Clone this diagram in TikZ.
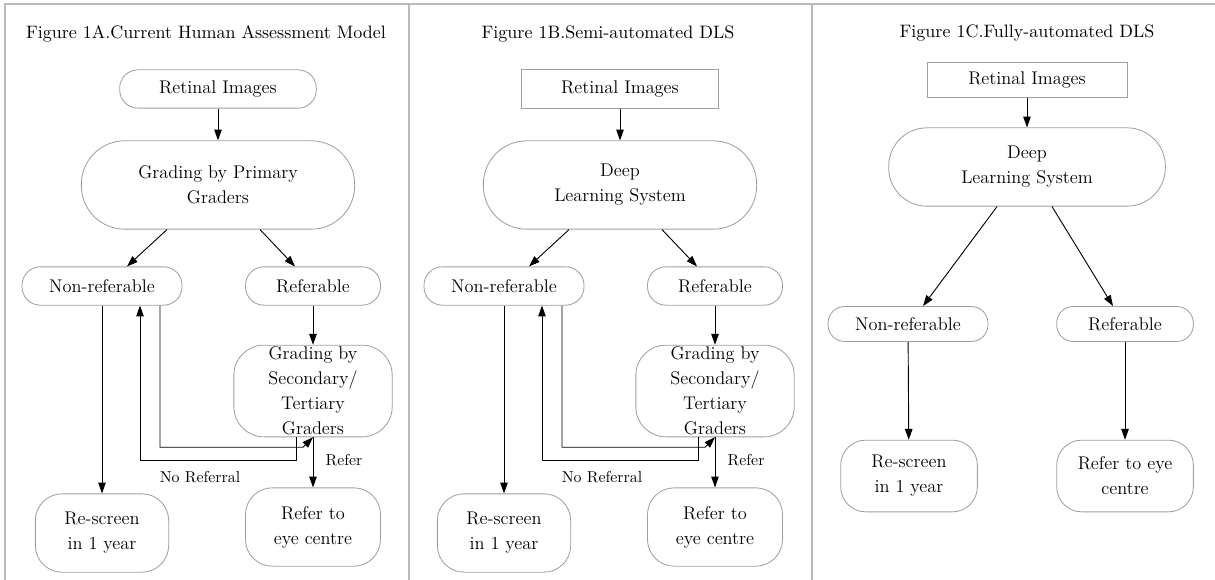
\documentclass[tikz,border=0pt]{standalone}
\usetikzlibrary{arrows.meta,calc}

\tikzset{
  flow/.style={draw=gray!75, line width=.5pt, align=center, inner sep=0pt,
               font=\fontsize{11}{15}\selectfont},
  pill/.style={flow, rounded corners=#1},
  imgpill/.style={flow, rounded corners=11pt},
  imgbox/.style={flow, rounded corners=0pt},
  arr/.style={-{Triangle[length=6.5pt,width=4.5pt]}, line width=.55pt},
  frame/.style={draw=gray!55, line width=1.1pt},
  titletext/.style={font=\fontsize{10.8}{13}\selectfont},
  small/.style={font=\fontsize{9.5}{11}\selectfont}
}

\begin{document}
\begin{tikzpicture}[x=0.6pt,y=-0.6pt]
    \useasboundingbox (0,0) rectangle (1215,580);
    % frame and separators
    \draw[frame] (5,580) -- (5,4) -- (1215,4);
    \draw[frame] (409,4) -- (409,580);
    \draw[frame] (812,4) -- (812,580);

    % Figure 1A and 1B
    \foreach \p/\dx/\shp/\txt/\tit in {a/0/imgpill/{Grading by Primary\\Graders}/{Figure 1A.Current Human Assessment Model},
                                      b/402/imgbox/{Deep\\Learning System}/{Figure 1B.Semi-automated DLS}} {
        \begin{scope}[xshift=\dx*0.6pt, name prefix=\p-]
            \node[titletext] (title) at (206,34) {\tit};
            \node[\shp, minimum width=118pt, minimum height=23pt] (img) at (218,89) {Retinal Images};
            \node[pill=26pt, minimum width=164pt, minimum height=53pt] (grade) at (218,185) {\txt};
            \node[pill=11pt, minimum width=96pt, minimum height=23pt] (nonref) at (102,286) {Non-referable};
            \node[pill=11pt, minimum width=81pt, minimum height=23pt] (ref) at (313,286) {Referable};
            \node[pill=18pt, minimum width=95pt, minimum height=55pt] (sec) at (313,391) {Grading by\\Secondary/\\Tertiary\\Graders};
            \node[pill=16pt, minimum width=80pt, minimum height=47pt] (rescr) at (102,533) {Re-screen\\in 1 year};
            \node[pill=16pt, minimum width=81pt, minimum height=47pt] (eye) at (313,527) {Refer to\\eye centre};

            \draw[arr] (img) -- (grade);
            \draw[arr] ($(grade.south)+(-51,0)$) -- ($(nonref.north)+(25,0)$);
            \draw[arr] ($(grade.south)+(42,0)$) -- ($(ref.north)+(-18,0)$);
            \draw[arr] (ref) -- (sec);
            \draw[arr] (nonref) -- (rescr);
            \draw[arr] (sec) -- node[small, right=4pt, pos=.45] {Refer} (eye);
            % loop between the two grading steps
            \draw[arr] ($(nonref.south)+(58,0)$) |- ($(sec.south)+(-10,10)$) -- (sec.south);
            \draw[arr] ($(sec.south)+(-17,0)$) |- ($(nonref.south)+(38,155)$) -- ($(nonref.south)+(38,0)$);
            \node[small] (noref) at (200,477) {No Referral};
        \end{scope}
    }

    % Figure 1C
    \node[titletext] (c-title) at (1027,33) {Figure 1C.Fully-automated DLS};
    \node[imgbox, minimum width=120pt, minimum height=21pt] (c-img) at (1027,80) {Retinal Images};
    \node[pill=23pt, minimum width=166pt, minimum height=47pt] (c-dls) at (1027,167) {Deep\\Learning System};
    \node[pill=10pt, minimum width=96pt, minimum height=21pt] (c-nonref) at (908,324) {Non-referable};
    \node[pill=10pt, minimum width=82pt, minimum height=21pt] (c-ref) at (1125,324) {Referable};
    \node[pill=15pt, minimum width=82pt, minimum height=43pt] (c-rescr) at (909,476) {Re-screen\\in 1 year};
    \node[pill=15pt, minimum width=82pt, minimum height=43pt] (c-eye) at (1125,476) {Refer to eye\\centre};

    \draw[arr] (c-img) -- (c-dls);
    \draw[arr] ($(c-dls.south)+(-30,0)$) -- ($(c-nonref.north)+(15,0)$);
    \draw[arr] ($(c-dls.south)+(25,0)$) -- ($(c-ref.north)+(-12,0)$);
    \draw[arr] (c-nonref) -- (c-rescr);
    \draw[arr] (c-ref) -- (c-eye);
\end{tikzpicture}
\end{document}
